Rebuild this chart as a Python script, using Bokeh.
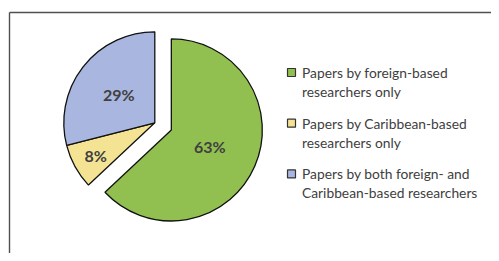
import math
from bokeh.plotting import figure
from bokeh.models import Range1d, ColumnDataSource
from bokeh.core.properties import value
from bokeh.embed import file_html
from bokeh.resources import INLINE

# ---- data ----
categories = ["Papers by foreign-based researchers only",
              "Papers by Caribbean-based researchers only",
              "Papers by both foreign- and Caribbean-based researchers"]
legend_lines = [["Papers by foreign-based", "researchers only"],
                ["Papers by Caribbean-based", "researchers only"],
                ["Papers by both foreign- and", "Caribbean-based researchers"]]
shares = [63, 8, 29]
labels = ["63%", "8%", "29%"]
colors = ["#92c050", "#f5e394", "#a9b6df"]
explode = [18, 0, 0]
label_frac = [0.46, 0.74, 0.50]

W, H = 491, 253
p = figure(width=W, height=H, output_backend="svg", toolbar_location=None,
           x_range=Range1d(0, W), y_range=Range1d(0, H),
           min_border=0, outline_line_color=None)
p.axis.visible = False
p.grid.visible = False
p.background_fill_color = "white"
p.border_fill_color = "white"

# chart border (top and left visible; the rest is cropped)
p.segment(x0=[9, 9], y0=[0, 241], x1=[9, W], y1=[241, 241],
          line_color="#505050", line_width=1.4)

cx, cy, r = 154.3, 130.7, 91
total = sum(shares)
cum = 0
xs, ys, starts, ends, lx, ly = [], [], [], [], [], []
for s, ex, lf in zip(shares, explode, label_frac):
    a0 = cum / total * 360
    cum += s
    a1 = cum / total * 360
    mid = math.radians(90 - (a0 + a1) / 2)
    ox, oy = cx + ex * math.cos(mid), cy + ex * math.sin(mid)
    xs.append(ox); ys.append(oy)
    starts.append(math.radians(90 - a1)); ends.append(math.radians(90 - a0))
    lx.append(ox + lf * r * math.cos(mid)); ly.append(oy + lf * r * math.sin(mid))

src = ColumnDataSource(dict(x=xs, y=ys, s=starts, e=ends, c=colors, lx=lx, ly=ly, t=labels))
p.wedge(x="x", y="y", radius=r, start_angle="s", end_angle="e", fill_color="c",
        line_color="#111111", line_width=1.3, source=src)
p.text(x="lx", y="ly", text="t", source=src, text_font=value("Lato"),
       text_font_style="bold", text_font_size="16px", text_color="#404040",
       text_align="center", text_baseline="middle")

# legend
leg_x, leg_y0, step, line_gap = 291, 181, 50.7, 18.8
mx, my, tx, ty, tt = [], [], [], [], []
for i, lines in enumerate(legend_lines):
    y = leg_y0 - i * step
    mx.append(leg_x); my.append(y)
    for j, ln in enumerate(lines):
        tx.append(leg_x + 10.5); ty.append(y - j * line_gap); tt.append(ln)
p.scatter(x=mx, y=my, marker="square", size=8, fill_color=colors,
          line_color="#333333", line_width=1.2)
p.text(x=tx, y=ty, text=tt, text_font=value("Lato"), text_font_size="13.8px",
       text_color="#404040", text_align="left", text_baseline="middle")

open("out.html", "w").write(file_html(p, INLINE))
